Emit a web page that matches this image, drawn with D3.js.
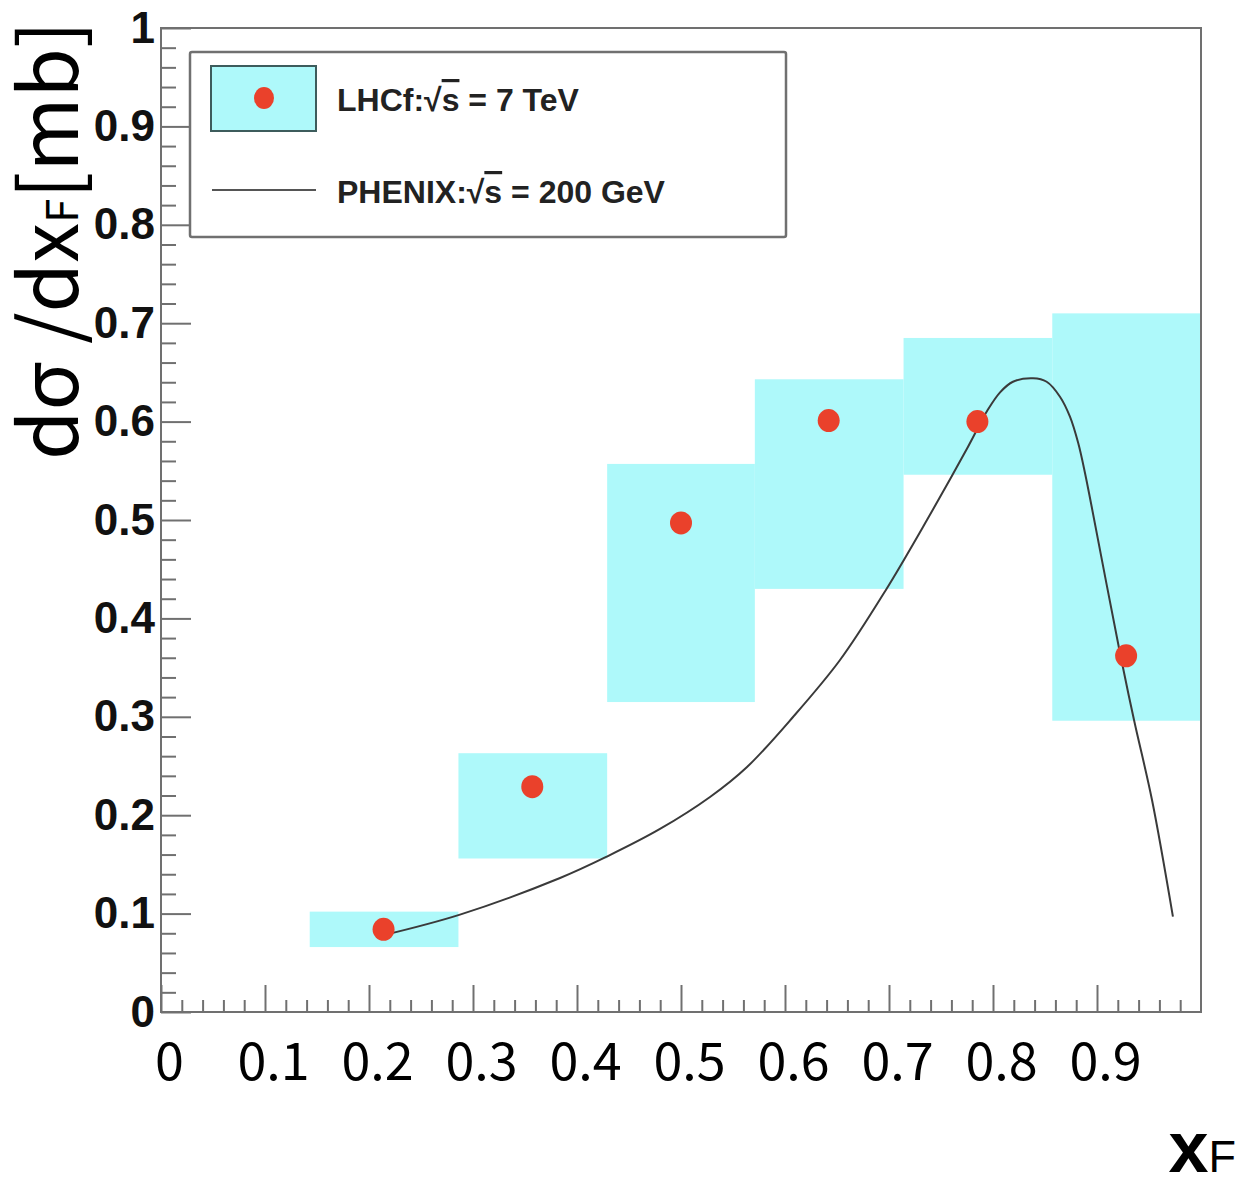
<!DOCTYPE html>
<html><head><meta charset="utf-8">
<script src="https://cdn.jsdelivr.net/npm/d3@7"></script>
<style>body{margin:0;background:#fff}svg{display:block}</style>
</head><body>
<svg id="c" width="1239" height="1178"></svg>
<script>
// ---- data ----
const binLo   = [0.143, 0.286, 0.429, 0.571, 0.714, 0.857];
const binHi   = [0.286, 0.429, 0.571, 0.714, 0.857, 1.000];
const lhcfX   = [0.214, 0.357, 0.500, 0.642, 0.785, 0.928];
const lhcfY   = [0.084, 0.229, 0.497, 0.601, 0.600, 0.362];
const sysLow  = [0.066, 0.156, 0.315, 0.430, 0.546, 0.296];
const sysHigh = [0.102, 0.263, 0.557, 0.643, 0.685, 0.710];
const phenixX = [0.2135,0.2875,0.3837,0.4288,0.4798,0.5279,0.5635,0.6077,0.6529,0.697,0.7365,0.776,0.795,0.807,0.8192,0.8385,0.8516,0.8644,0.874,0.882,0.8885,0.8949,0.9221,0.9356,0.9529,0.973];
const phenixY = [0.078,0.099,0.1362,0.158,0.186,0.2185,0.249,0.2998,0.3577,0.4289,0.50,0.5745,0.612,0.630,0.6405,0.644,0.6405,0.6253,0.605,0.5779,0.5475,0.5134,0.3648,0.2967,0.2154,0.0969];
const xTickLabels = ["0","0.1","0.2","0.3","0.4","0.5","0.6","0.7","0.8","0.9"];
const yTickLabels = ["0","0.1","0.2","0.3","0.4","0.5","0.6","0.7","0.8","0.9","1"];
const legendLabels = ["LHCf:", "PHENIX:"];
const legendRest = [" = 7 TeV", " = 200 GeV"];

const svg = d3.select("#c");
const x = d3.scaleLinear().domain([0,1]).range([161,1201]);
const y = d3.scaleLinear().domain([0,1]).range([1012,28]);
const frameCol = "#707070";

// systematic boxes
svg.append("g").selectAll("rect").data(binLo).join("rect")
  .attr("x", (d,i)=>x(binLo[i]))
  .attr("width", (d,i)=>x(binHi[i])-x(binLo[i]))
  .attr("y", (d,i)=>y(sysHigh[i]))
  .attr("height", (d,i)=>y(sysLow[i])-y(sysHigh[i]))
  .attr("fill", "#aef9fa");

// PHENIX curve
const line = d3.line().x(d=>x(d[0])).y(d=>y(d[1])).curve(d3.curveCatmullRom.alpha(0.5));
svg.append("path").datum(phenixX.map((v,i)=>[v,phenixY[i]]))
  .attr("d", line).attr("fill","none").attr("stroke","#3a3a3a").attr("stroke-width",2);

// points
svg.append("g").selectAll("ellipse").data(lhcfX).join("ellipse")
  .attr("cx",(d,i)=>x(lhcfX[i])).attr("cy",(d,i)=>y(lhcfY[i]))
  .attr("rx",11).attr("ry",11.5).attr("fill","#ea412b");

// frame
svg.append("rect").attr("x",161).attr("y",28).attr("width",1040).attr("height",984)
  .attr("fill","none").attr("stroke",frameCol).attr("stroke-width",2);

// y axis
const yMajor = d3.range(0,11).map(i=>i/10);
const yMinor = d3.range(0,51).map(i=>i/50).filter((v,i)=>i%5!==0);
const yAx = svg.append("g").attr("transform","translate(161,0)")
  .call(d3.axisLeft(y).tickValues(yMajor).tickSize(-30).tickPadding(6)
    .tickFormat((d,i)=>yTickLabels[i]));
yAx.select(".domain").remove();
yAx.selectAll("line").attr("stroke",frameCol).attr("stroke-width",2);
yAx.selectAll("text").attr("font-family","Liberation Sans, Arial, sans-serif")
  .attr("font-weight","bold").attr("font-size",44).attr("fill","#111");
const yAxm = svg.append("g").attr("transform","translate(161,0)")
  .call(d3.axisLeft(y).tickValues(yMinor).tickSize(-15).tickFormat(""));
yAxm.select(".domain").remove();
yAxm.selectAll("line").attr("stroke",frameCol).attr("stroke-width",2);

// x axis
const xMajor = d3.range(0,10).map(i=>i/10);
const xMinor = d3.range(0,51).map(i=>i/50).filter((v,i)=>i%5!==0);
const xAx = svg.append("g").attr("transform","translate(0,1012)")
  .call(d3.axisBottom(x).tickValues(xMajor).tickSize(-27).tickPadding(31)
    .tickFormat((d,i)=>xTickLabels[i]));
xAx.select(".domain").remove();
xAx.selectAll("line").attr("stroke",frameCol).attr("stroke-width",2);
xAx.selectAll("text").attr("font-family","Noto Sans CJK JP, Noto Sans, sans-serif")
  .attr("font-size",52).attr("fill","#000").attr("dx",8);
const xAxm = svg.append("g").attr("transform","translate(0,1012)")
  .call(d3.axisBottom(x).tickValues(xMinor).tickSize(-12).tickFormat(""));
xAxm.select(".domain").remove();
xAxm.selectAll("line").attr("stroke",frameCol).attr("stroke-width",2);

// axis titles
const yt = svg.append("text").attr("transform","translate(78,460) rotate(-90)")
  .attr("font-family","Noto Sans CJK JP, Noto Sans, sans-serif").attr("font-size",80).attr("fill","#000");
yt.append("tspan").text("dσ /dx");
yt.append("tspan").attr("font-size",44).text("F");
yt.append("tspan").text("[mb]");

const xt = svg.append("text").attr("x",1236).attr("y",1172).attr("text-anchor","end")
  .attr("font-family","Liberation Sans, Arial, sans-serif").attr("fill","#000");
xt.append("tspan").attr("font-size",72).attr("font-weight","bold").text("x");
xt.append("tspan").attr("font-size",45).text("F");

// legend
const lg = svg.append("g");
lg.append("rect").attr("x",190).attr("y",52).attr("width",596).attr("height",185).attr("rx",2)
  .attr("fill","#fff").attr("stroke",frameCol).attr("stroke-width",2.5);
lg.append("rect").attr("x",211).attr("y",66).attr("width",105).attr("height",65)
  .attr("fill","#aef9fa").attr("stroke","#3d5c5c").attr("stroke-width",2);
lg.append("ellipse").attr("cx",264).attr("cy",98).attr("rx",10).attr("ry",11).attr("fill","#ea412b");
lg.append("line").attr("x1",212).attr("x2",316).attr("y1",190).attr("y2",190)
  .attr("stroke","#555").attr("stroke-width",2);
[111, 203].forEach((by,i)=>{
  const t = lg.append("text").attr("x",337).attr("y",by)
    .attr("font-family","Liberation Sans, Arial, sans-serif").attr("font-weight","bold")
    .attr("font-size",32).attr("fill","#222");
  t.append("tspan").text(legendLabels[i] + "√");
  t.append("tspan").attr("text-decoration","overline").text("s");
  t.append("tspan").text(legendRest[i]);
});
</script>
</body></html>
